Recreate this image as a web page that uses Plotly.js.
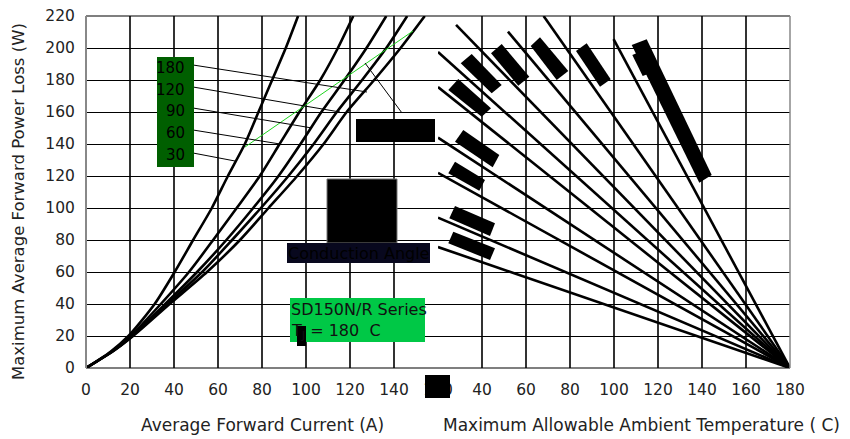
<!DOCTYPE html>
<html>
<head>
<meta charset="utf-8">
<script src="https://cdn.plot.ly/plotly-3.0.1.min.js"></script>
<style>html,body{margin:0;padding:0;background:#fff;}#chart{width:850px;height:439px;}</style>
</head>
<body>
<div id="chart"></div>
<script>
// ---- data ----
const POWER_LEVELS = [0, 10, 20, 40, 60, 80, 100, 120, 140, 160, 180, 200, 220];
const CURRENT_30  = [0, 11.0, 19.3, 31.2, 40.3, 48.7, 57.2, 64.5, 72.2, 78.4, 84.6, 90.8, 96.4];
const CURRENT_60  = [0, 11.4, 20.3, 34.0, 46.8, 57.8, 68.5, 79.0, 88.0, 97.0, 106.5, 114.5, 121.5];
const CURRENT_90  = [0, 11.6, 20.8, 36.0, 50.5, 63.8, 76.0, 87.5, 97.5, 107.0, 117.5, 127.5, 136.5];
const CURRENT_120 = [0, 11.7, 21.1, 37.0, 52.8, 66.4, 79.5, 92.0, 103.5, 114.0, 125.5, 136.5, 146.0];
const CURRENT_180 = [0, 11.8, 21.4, 38.0, 55.0, 70.0, 83.0, 96.0, 108.0, 118.5, 131.0, 143.0, 154.0];
const ANGLE_LABELS = ["180", "120", "90", "60", "30"];

const T_START = [20, 20, 20, 20, 20, 20, 28.2, 51.8, 68.0, 99.8];
const P_START = [197.5, 175.6, 144.0, 122.0, 94.0, 75.6, 214.4, 210.2, 220.0, 205.5];
const T_END = 180, P_END = 0;

const X_TICKS = [0, 20, 40, 60, 80, 100, 120, 140, 160];
const X2_TICKS = [40, 60, 80, 100, 120, 140, 160, 180];
const Y_TICKS = [0, 20, 40, 60, 80, 100, 120, 140, 160, 180, 200, 220];

// ---- layout helpers (pixel -> paper) ----
const L = 86, T = 16, PW = 704, PH = 352;
function px(x) { return (x - L) / PW; }
function py(y) { return (T + PH - y) / PH; }
function poly(pts, fill) {
  let d = pts.map((p, i) => (i ? 'L' : 'M') + px(p[0]).toFixed(5) + ',' + py(p[1]).toFixed(5)).join(' ') + ' Z';
  return {type: 'path', xref: 'paper', yref: 'paper', path: d, fillcolor: fill || '#000', line: {width: 0}, layer: 'above'};
}
function rect(x0, y0, x1, y1, fill, lineColor) {
  return {type: 'rect', xref: 'paper', yref: 'paper', x0: px(x0), x1: px(x1), y0: py(y1), y1: py(y0),
    fillcolor: fill, line: {width: lineColor ? 1 : 0, color: lineColor || fill}, layer: 'above'};
}
function seg(x0, y0, x1, y1, color, w) {
  return {type: 'line', xref: 'paper', yref: 'paper', x0: px(x0), x1: px(x1), y0: py(y0), y1: py(y1),
    line: {color: color, width: w}, layer: 'above'};
}

const FONT = 'DejaVu Sans';
const curveSets = [CURRENT_30, CURRENT_60, CURRENT_90, CURRENT_120, CURRENT_180];
const traces = [];
curveSets.forEach(c => traces.push({
  x: c, y: POWER_LEVELS, xaxis: 'x', yaxis: 'y', mode: 'lines',
  line: {color: '#000', width: 2.6, shape: 'spline', smoothing: 0.7}, hoverinfo: 'skip', showlegend: false
}));
T_START.forEach((t, i) => traces.push({
  x: [t, T_END], y: [P_START[i], P_END], xaxis: 'x2', yaxis: 'y', mode: 'lines',
  line: {color: '#000', width: 2.6}, hoverinfo: 'skip', showlegend: false
}));

const axisCommon = {
  showgrid: true, gridcolor: '#333', gridwidth: 1.2, zeroline: false,
  tickfont: {family: FONT, size: 15.5, color: '#222'}, ticks: 'outside', ticklen: 7, tickcolor: 'rgba(0,0,0,0)'
};

const shapes = [
  // frame
  seg(86, 16, 790, 16, '#000', 1.2),
  seg(86, 368, 790, 368, '#000', 1.2),
  seg(86, 16, 86, 368, '#888', 2),
  seg(790, 16, 790, 368, '#888', 1.5),
  // RMS limit (green) and leader lines
  seg(245, 147, 413, 31, '#1fd41f', 1),
  seg(365, 63, 402, 113, '#000', 1),
  seg(193, 65, 367, 92, '#000', 1),
  seg(193, 87, 340, 112, '#000', 1),
  seg(193, 108, 312, 128, '#000', 1),
  seg(193, 130, 280, 144, '#000', 1),
  seg(193, 153, 235, 161, '#000', 1),
  // boxes
  rect(157, 57, 194, 167, '#005f00'),
  rect(356, 119, 435, 142, '#000'),
  rect(327, 179, 397, 243, '#000', '#777'),
  rect(287, 243, 430, 263, '#08081e'),
  rect(290, 298, 425, 342, '#00c846'),
  rect(425, 375, 450, 398, '#000'),
  // rotated black bars
  poly([[471.7,54],[501.7,85],[491.7,93.3],[460.7,63.3]]),
  poly([[501.7,44],[529.3,76.7],[518.3,85.7],[491,53.3]]),
  poly([[540,37.3],[568.3,71],[556.7,80],[530.7,46]]),
  poly([[586.7,43.3],[610.7,79.3],[600,86.7],[576,51]]),
  poly([[458.3,79],[491,108.3],[481.7,116.7],[448.3,90]]),
  poly([[463.3,130],[499.3,155],[492.7,167.3],[455,141.7]]),
  poly([[455,161.7],[485,180],[479.3,190.7],[448.3,173.3]]),
  poly([[455,206],[495,223.3],[490,236],[449.3,218.3]]),
  poly([[453.3,231.7],[495,248.3],[490,260],[448.3,243.3]]),
  poly([[631.7,45],[646.7,39.3],[711.7,175],[699.3,182.7]]),
  poly([[632.3,55],[640,51.7],[650,73.3],[642.7,76]])
];

const annotations = [];
const labelY = [68, 90, 111, 133, 155];
ANGLE_LABELS.forEach((lab, i) => annotations.push({
  xref: 'paper', yref: 'paper', x: px(187), y: py(labelY[i]), xanchor: 'right', yanchor: 'middle',
  text: lab, showarrow: false, font: {family: FONT, size: 15, color: '#000'}
}));
annotations.push(
  {xref: 'paper', yref: 'paper', x: px(358), y: py(253), xanchor: 'center', yanchor: 'middle',
   text: 'Conduction Angle', showarrow: false, font: {family: FONT, size: 16, color: '#000'}},
  {xref: 'paper', yref: 'paper', x: px(289), y: py(309), xanchor: 'left', yanchor: 'middle',
   text: 'SD150N/R Series', showarrow: false, font: {family: FONT, size: 16, color: '#111'}},
  {xref: 'paper', yref: 'paper', x: px(289), y: py(331), xanchor: 'left', yanchor: 'middle',
   text: 'T<sub>J</sub> = 180  C', showarrow: false, font: {family: FONT, size: 16, color: '#111'}},
  {xref: 'paper', yref: 'paper', x: px(262), y: py(425), xanchor: 'center', yanchor: 'middle',
   text: 'Average Forward Current (A)', showarrow: false, font: {family: FONT, size: 17, color: '#222'}},
  {xref: 'paper', yref: 'paper', x: px(641), y: py(425), xanchor: 'center', yanchor: 'middle',
   text: 'Maximum Allowable Ambient Temperature ( C)', showarrow: false, font: {family: FONT, size: 17, color: '#222'}},
  {xref: 'paper', yref: 'paper', x: px(19), y: py(202), xanchor: 'center', yanchor: 'middle', textangle: -90,
   text: 'Maximum Average Forward Power Loss (W)', showarrow: false, font: {family: FONT, size: 16.5, color: '#222'}}
);
shapes.push(rect(297, 326, 306, 346, '#000'));

const layout = {
  width: 850, height: 439,
  margin: {l: L, r: 850 - L - PW, t: T, b: 439 - T - PH},
  paper_bgcolor: '#fff', plot_bgcolor: '#fff',
  showlegend: false,
  xaxis: Object.assign({}, axisCommon, {domain: [0, 0.5], range: [0, 160], tickvals: X_TICKS, ticktext: X_TICKS.map(String), anchor: 'y'}),
  xaxis2: Object.assign({}, axisCommon, {domain: [0.5, 1], range: [20, 180], tickvals: X2_TICKS, ticktext: X2_TICKS.map(String), anchor: 'y'}),
  yaxis: Object.assign({}, axisCommon, {range: [0, 220], tickvals: Y_TICKS, ticktext: Y_TICKS.map(String), gridcolor: '#000', gridwidth: 1}),
  shapes: shapes,
  annotations: annotations
};

Plotly.newPlot('chart', traces, layout, {staticPlot: true, displayModeBar: false});
</script>
</body>
</html>
